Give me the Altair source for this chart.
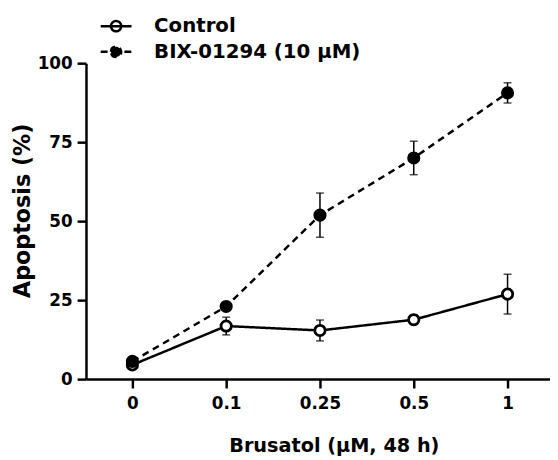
import json
import altair as alt
import pandas as pd

doses = ["0", "0.1", "0.25", "0.5", "1"]
series_names = ["Control", "BIX-01294 (10 μM)"]
control_mean = [4.5, 16.8, 15.4, 18.8, 26.9]
control_err = [1.0, 2.8, 3.3, 1.5, 6.3]
bix_mean = [5.6, 23.0, 51.9, 70.0, 90.6]
bix_err = [1.0, 1.0, 7.0, 5.3, 3.2]
y_ticks = [0, 25, 50, 75, 100]

rows = []
for i, d in enumerate(doses):
    rows.append({"idx": i, "dose": d, "series": series_names[0],
                 "mean": control_mean[i], "lo": control_mean[i] - control_err[i],
                 "hi": control_mean[i] + control_err[i]})
    rows.append({"idx": i, "dose": d, "series": series_names[1],
                 "mean": bix_mean[i], "lo": bix_mean[i] - bix_err[i],
                 "hi": bix_mean[i] + bix_err[i]})
df = pd.DataFrame(rows)

FONT = "DejaVu Sans"
label_expr = json.dumps(doses) + "[datum.value]"

x_enc = alt.X("idx:Q",
              scale=alt.Scale(domain=[-0.4947, 4.4526], nice=False, zero=False),
              axis=alt.Axis(values=list(range(len(doses))), labelExpr=label_expr,
                            title="Brusatol (μM, 48 h)", titleX=251, titlePadding=25))
y_enc = alt.Y("mean:Q", scale=alt.Scale(domain=[0, 100], nice=False),
              axis=alt.Axis(values=y_ticks, title="Apoptosis (%)", titlePadding=3,
                            titleY=149))

base = alt.Chart(df)

lines = base.mark_line(color="black", strokeWidth=2.5).encode(
    x=x_enc, y=y_enc,
    strokeDash=alt.StrokeDash("series:N",
                              scale=alt.Scale(domain=series_names, range=[[1, 0], [7, 5]]),
                              legend=alt.Legend(title=None)),
)

err = base.mark_rule(color="black", strokeWidth=1.5).encode(
    x=alt.X("idx:Q"), y=alt.Y("lo:Q"), y2="hi:Q")
cap_lo = base.mark_tick(color="black", orient="horizontal", size=8, thickness=1.5).encode(
    x=alt.X("idx:Q"), y=alt.Y("lo:Q"))
cap_hi = base.mark_tick(color="black", orient="horizontal", size=8, thickness=1.5).encode(
    x=alt.X("idx:Q"), y=alt.Y("hi:Q"))

points = base.mark_point(shape="circle", size=110, stroke="black", strokeWidth=2.8,
                         opacity=1, filled=False).encode(
    x=alt.X("idx:Q"), y=alt.Y("mean:Q"),
    fill=alt.Fill("series:N", scale=alt.Scale(domain=series_names, range=["white", "black"]),
                  legend=alt.Legend(title=None)),
)

chart = alt.layer(lines, err, cap_lo, cap_hi, points).properties(
    width=470, height=320,
    autosize=alt.AutoSizeParams(type="none"),
    padding={"left": 79, "top": 53, "right": 0, "bottom": 76},
).configure_view(stroke=None).configure_axis(
    labelFont=FONT, labelFontWeight="bold", labelFontSize=17, labelColor="black",
    titleFont=FONT, titleFontWeight="bold", titleColor="black",
    domainColor="black", domainWidth=2.5, tickColor="black", tickWidth=2.5,
    tickSize=9, grid=False, labelPadding=5,
).configure_axisX(
    labelAngle=0, titleFontSize=19.5, labelPadding=8,
).configure_axisY(
    titleFontSize=22.5,
).configure_legend(
    orient="none", legendX=16, legendY=-52, padding=0,
    symbolType="M-1.2,0H1.2M-0.4,0A0.4,0.4,0,1,1,0.4,0A0.4,0.4,0,1,1,-0.4,0Z",
    symbolSize=676, symbolStrokeColor="black", symbolStrokeWidth=2.5,
    labelFont=FONT, labelFontWeight="bold", labelFontSize=20, labelColor="black",
    labelOffset=24, rowPadding=1, labelLimit=0,
)

chart.save("out.html", embed_options={"renderer": "svg", "actions": False})
